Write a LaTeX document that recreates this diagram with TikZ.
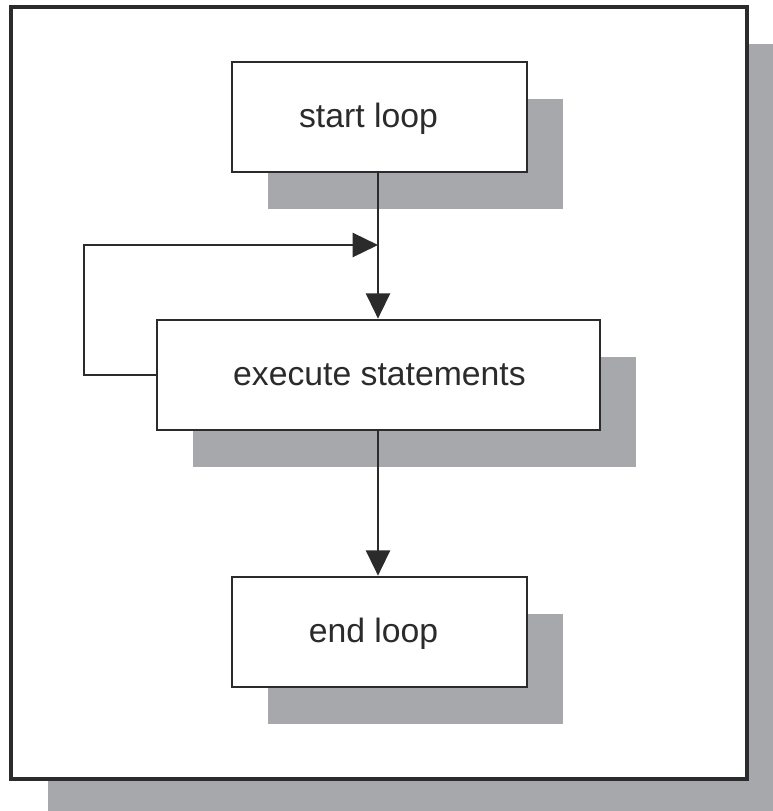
\documentclass[tikz,border=0pt]{standalone}
\usepackage{fontspec}
\setmainfont{Liberation Sans}
\usetikzlibrary{arrows.meta,shadows}
\definecolor{shadowgray}{HTML}{A6A8AB}
\definecolor{ink}{HTML}{2B2B2B}
\begin{document}
\begin{tikzpicture}[x=0.75pt,y=-0.75pt,
  flowbox/.style={draw=ink,line width=2pt,fill=white,minimum width=295*0.75pt,minimum height=110*0.75pt,inner sep=0pt,
    font=\fontsize{25.3}{30}\selectfont,text=ink,text height=18pt,text depth=3pt,
    general shadow={shadow xshift=27pt,shadow yshift=-27.5pt,fill=shadowgray,opacity=1}},
  frame/.style={draw=ink,line width=2.4pt,fill=white,minimum width=736*0.75pt,minimum height=772*0.75pt,inner sep=0pt,
    general shadow={shadow xshift=27.5pt,shadow yshift=-27.5pt,fill=shadowgray,opacity=1}},
  conn/.style={draw=ink,line width=1.9pt,-{Triangle[length=19pt,width=18pt]}}]
\useasboundingbox (0,0) rectangle (773,811);
\clip (0,0) rectangle (773,811);
\node[frame] (outer) at (379,393) {};
\node[flowbox] (start) at (379.5,117) {start loop\kern16.5pt};
\node[flowbox,minimum width=443*0.75pt] (exec) at (378.5,375) {\kern1.5pt execute statements};
\node[flowbox] (end) at (379.5,632) {end loop\kern9pt};
\coordinate (lc) at (84,245);
\coordinate (j) at (378,245);
\draw[conn] (start.south -| j) -- (exec.north -| j);
\draw[conn] (exec.south -| j) -- (end.north -| j);
\draw[conn] (exec.west) -- (exec.west -| lc) -- (lc) -- (j);
\end{tikzpicture}
\end{document}
